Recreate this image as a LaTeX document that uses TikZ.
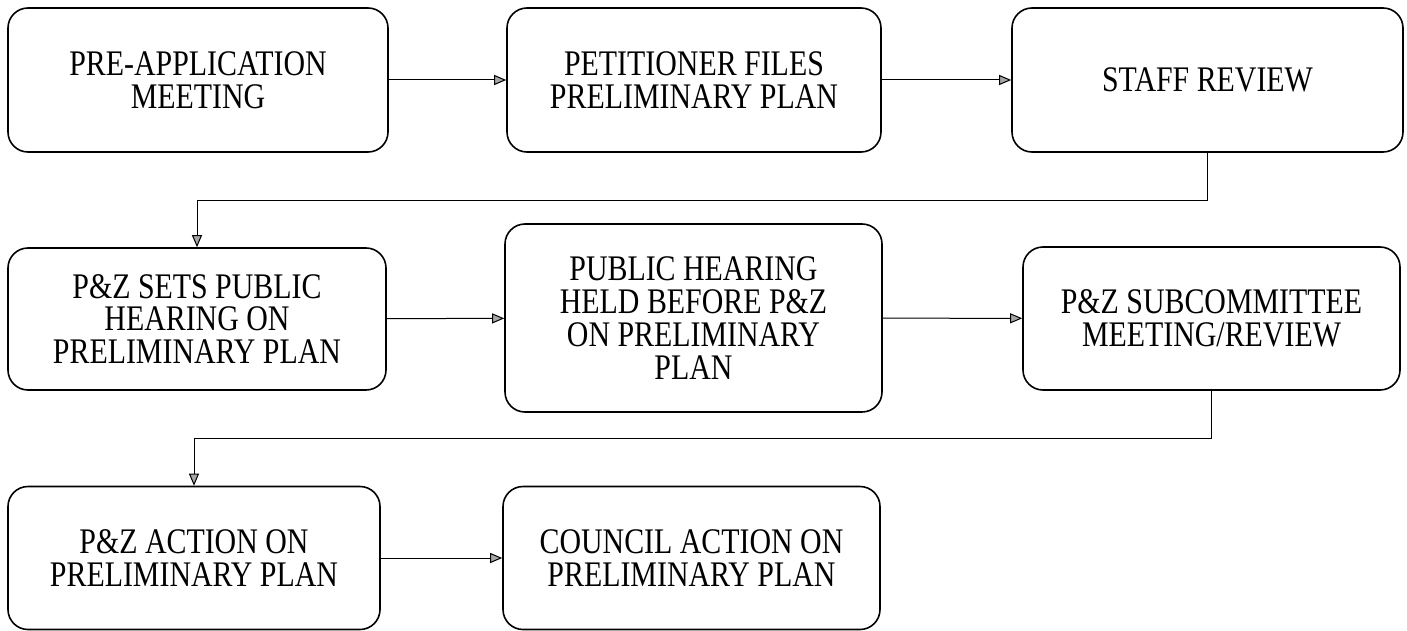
\documentclass[tikz,border=0pt]{standalone}
\usepackage{fontspec}
\setmainfont{Liberation Serif}[FakeStretch=0.83]
\usetikzlibrary{arrows.meta}

\begin{document}
\begin{tikzpicture}[
    x=0.5pt, y=-0.5pt,
    stage/.style={rectangle, rounded corners=10pt, draw=black, line width=0.8pt,
        fill=white, align=center, inner sep=2pt,
        font=\fontsize{18}{16.4}\selectfont},
    flow/.style={line width=0.5pt, -{Triangle[length=6pt, width=5pt, fill=gray!70]}}
]
    \useasboundingbox (0,0) rectangle (1407,631);
    \node[stage, minimum width=190pt, minimum height=72pt] (preapp) at (198,80) {PRE-APPLICATION\\MEETING};
    \node[stage, minimum width=187pt, minimum height=72pt] (files) at (694,80) {PETITIONER FILES\\PRELIMINARY PLAN};
    \node[stage, minimum width=195.5pt, minimum height=72pt] (staff) at (1207.5,80) {STAFF REVIEW};
    \node[stage, minimum width=189pt, minimum height=71pt] (sets) at (197,319) {P\&Z SETS PUBLIC\\HEARING ON\\PRELIMINARY PLAN};
    \node[stage, minimum width=188.5pt, minimum height=94pt] (hearing) at (693.5,318) {PUBLIC HEARING\\HELD BEFORE P\&Z\\ON PRELIMINARY\\PLAN};
    \node[stage, minimum width=188.5pt, minimum height=71.5pt] (subcom) at (1211.5,318.5) {P\&Z SUBCOMMITTEE\\MEETING/REVIEW};
    \node[stage, minimum width=186pt, minimum height=71.5pt] (pzact) at (194,558) {P\&Z ACTION ON\\PRELIMINARY PLAN};
    \node[stage, minimum width=188.5pt, minimum height=71.5pt] (council) at (691.5,558) {COUNCIL ACTION ON\\PRELIMINARY PLAN};
    \draw[flow] (preapp) -- (files);
    \draw[flow] (files) -- (staff);
    \draw[flow] (staff.south) -- ++(0,48) -| (sets.north);
    \draw[flow] (sets) -- (hearing);
    \draw[flow] (hearing) -- (subcom);
    \draw[flow] (subcom.south) -- ++(0,48) -| (pzact.north);
    \draw[flow] (pzact) -- (council);
\end{tikzpicture}
\end{document}
